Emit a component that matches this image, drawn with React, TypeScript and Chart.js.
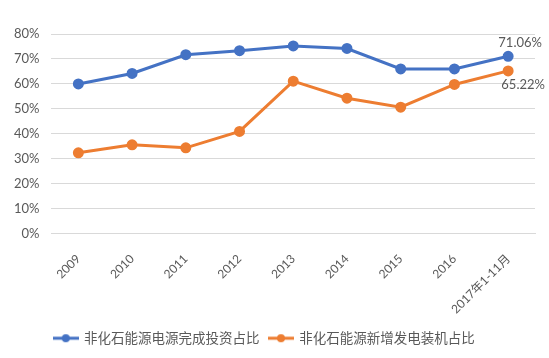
import React, { useEffect, useRef } from "react";
import { Chart, registerables } from "chart.js";

Chart.register(...registerables);

const categories = ["2009", "2010", "2011", "2012", "2013", "2014", "2015", "2016", "2017年1-11月"];
const investShare = [60.0, 64.2, 71.7, 73.3, 75.2, 74.2, 66.0, 66.0, 71.06];
const capacityShare = [32.4, 35.6, 34.4, 41.0, 61.1, 54.3, 50.7, 59.8, 65.22];
const yTicks = [0, 10, 20, 30, 40, 50, 60, 70, 80];
const seriesNames = ["非化石能源电源完成投资占比", "非化石能源新增发电装机占比"];
const seriesColors = ["#4472C4", "#ED7D31"];

function makeMarker(color: string) {
  const c = document.createElement("canvas");
  c.width = 26;
  c.height = 10;
  const ctx = c.getContext("2d")!;
  ctx.strokeStyle = color;
  ctx.lineWidth = 3;
  ctx.beginPath();
  ctx.moveTo(0, 5);
  ctx.lineTo(26, 5);
  ctx.stroke();
  ctx.fillStyle = color;
  ctx.beginPath();
  ctx.arc(13, 5, 4, 0, Math.PI * 2);
  ctx.fill();
  return c;
}

const endLabels = {
  id: "endLabels",
  afterDatasetsDraw(chart: any) {
    const ctx = chart.ctx;
    ctx.save();
    ctx.font = '13px Lato, "Noto Sans CJK SC", sans-serif';
    ctx.fillStyle = "#595959";
    ctx.textAlign = "center";
    const m0 = chart.getDatasetMeta(0).data;
    const m1 = chart.getDatasetMeta(1).data;
    const p0 = m0[m0.length - 1];
    const p1 = m1[m1.length - 1];
    ctx.textBaseline = "bottom";
    ctx.fillText(investShare[investShare.length - 1].toFixed(2) + "%", p0.x + 12, p0.y - 7);
    ctx.textBaseline = "top";
    ctx.fillText(capacityShare[capacityShare.length - 1].toFixed(2) + "%", p1.x + 15, p1.y + 7);
    ctx.restore();
  },
};

const legendShift = {
  id: "legendShift",
  afterLayout(chart: any) {
    const lg = chart.legend;
    if (lg) {
      lg.left -= 4;
      lg.right -= 4;
    }
  },
};

export default function App() {
  const ref = useRef<HTMLCanvasElement>(null);
  useEffect(() => {
    document.body.style.margin = "0";
    const markers = seriesColors.map(makeMarker);
    const chart = new Chart(ref.current!, {
      type: "line",
      data: {
        labels: categories,
        datasets: [
          {
            label: seriesNames[0],
            data: investShare,
            borderColor: seriesColors[0],
            backgroundColor: seriesColors[0],
            borderWidth: 3,
            pointRadius: 4,
            pointHoverRadius: 4,
            tension: 0,
          },
          {
            label: seriesNames[1],
            data: capacityShare,
            borderColor: seriesColors[1],
            backgroundColor: seriesColors[1],
            borderWidth: 3,
            pointRadius: 4,
            pointHoverRadius: 4,
            tension: 0,
          },
        ],
      },
      options: {
        animation: false,
        responsive: false,
        layout: { padding: { left: 2, right: 14, top: 34, bottom: 3 } },
        plugins: {
          tooltip: { enabled: false },
          legend: {
            position: "bottom",
            labels: {
              usePointStyle: true,
              pointStyleWidth: 23,
              color: "#595959",
              font: { size: 13.5, family: '"Noto Sans CJK SC", sans-serif' },
              padding: 10,
              generateLabels: (ch: any) =>
                ch.data.datasets.map((ds: any, i: number) => ({
                  text: ds.label,
                  fillStyle: seriesColors[i],
                  strokeStyle: seriesColors[i],
                  pointStyle: markers[i],
                  datasetIndex: i,
                  hidden: false,
                  fontColor: "#595959",
                })),
            },
          },
        },
        scales: {
          x: {
            offset: true,
            grid: { display: false },
            border: { color: "#d9d9d9" },
            afterFit: (s: any) => {
              s.height -= 5;
            },
            ticks: {
              minRotation: 45,
              maxRotation: 45,
              color: "#595959",
              font: { size: 12, family: 'Lato, "Noto Sans CJK SC", sans-serif' },
              padding: 10,
            },
          },
          y: {
            min: 0,
            max: 80,
            afterBuildTicks: (axis: any) => {
              axis.ticks = yTicks.map((v) => ({ value: v }));
            },
            grid: { color: "#d9d9d9", drawTicks: false },
            border: { display: false },
            ticks: {
              color: "#595959",
              padding: 12,
              font: { size: 13, family: 'Lato, "Noto Sans CJK SC", sans-serif' },
              callback: (v: any) => v + "%",
            },
          },
        },
      },
      plugins: [endLabels, legendShift],
    });
    return () => chart.destroy();
  }, []);
  return (
    <div style={{ width: 549, height: 358, background: "#fff" }}>
      <canvas ref={ref} width={549} height={358} />
    </div>
  );
}
